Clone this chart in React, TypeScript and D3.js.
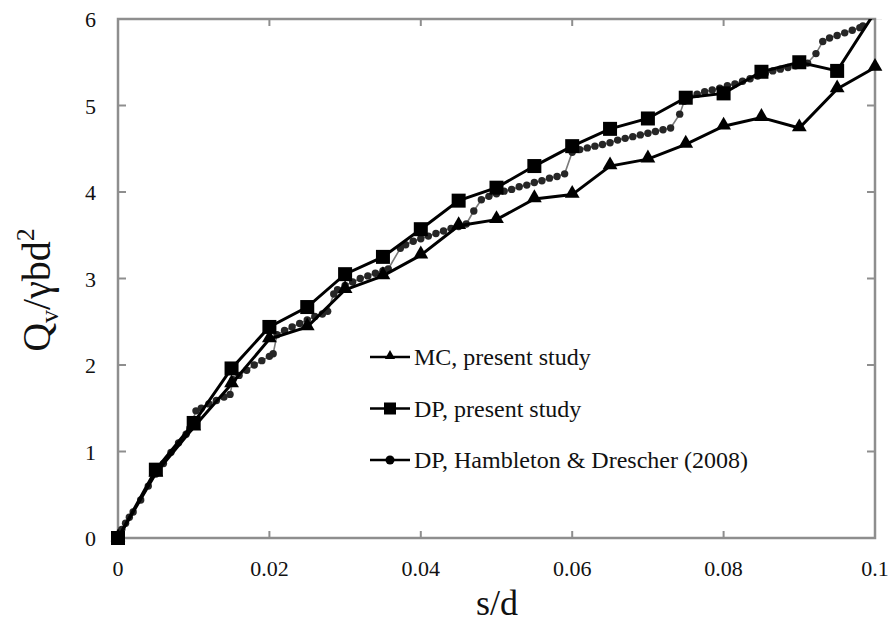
import React from "react";
import * as d3 from "d3";

const sd = [0, 0.005, 0.01, 0.015, 0.02, 0.025, 0.03, 0.035, 0.04, 0.045, 0.05, 0.055, 0.06, 0.065, 0.07, 0.075, 0.08, 0.085, 0.09, 0.095, 0.1];
const mcValues = [0, 0.75, 1.28, 1.78, 2.3, 2.44, 2.87, 3.03, 3.27, 3.61, 3.68, 3.92, 3.97, 4.3, 4.38, 4.55, 4.76, 4.86, 4.74, 5.19, 5.44];
const dpValues = [0, 0.79, 1.33, 1.96, 2.44, 2.67, 3.05, 3.25, 3.57, 3.9, 4.05, 4.3, 4.53, 4.73, 4.85, 5.09, 5.14, 5.39, 5.5, 5.4, 6.08];

const hdX = [
  0, 0.0005, 0.001, 0.0015, 0.002, 0.003, 0.004, 0.005, 0.006, 0.007, 0.008, 0.009, 0.0095,
  0.0103, 0.011, 0.012, 0.013, 0.014, 0.0148,
  0.0152, 0.016, 0.017, 0.018, 0.019, 0.02, 0.0205,
  0.021, 0.022, 0.023, 0.024, 0.025, 0.026, 0.027, 0.0277,
  0.0285, 0.029, 0.03, 0.031, 0.032, 0.033, 0.034, 0.035, 0.0357,
  0.0373, 0.038, 0.039, 0.04, 0.041, 0.042, 0.043, 0.044, 0.045, 0.046,
  0.047, 0.048, 0.049, 0.05, 0.051, 0.052, 0.053, 0.054, 0.055, 0.056, 0.057, 0.058, 0.059,
  0.06, 0.061, 0.062, 0.063, 0.064, 0.065, 0.066, 0.067, 0.068, 0.069, 0.07, 0.071, 0.072, 0.073,
  0.0742, 0.0748, 0.0755, 0.0765, 0.0775, 0.0785, 0.0795, 0.0805, 0.0815, 0.0825, 0.0835, 0.0845, 0.0855, 0.0865, 0.0875, 0.0885, 0.0895, 0.0905, 0.0911,
  0.0922, 0.0931, 0.094, 0.095, 0.096, 0.097, 0.098, 0.0984,
];
const hdValues = [
  0, 0.1, 0.17, 0.24, 0.3, 0.44, 0.6, 0.74, 0.86, 0.99, 1.1, 1.2, 1.27,
  1.47, 1.5, 1.55, 1.59, 1.63, 1.66,
  1.83, 1.88, 1.94, 2.0, 2.05, 2.1, 2.13,
  2.35, 2.4, 2.44, 2.48, 2.52, 2.56, 2.59, 2.62,
  2.82, 2.87, 2.92, 2.96, 3.0, 3.03, 3.06, 3.09, 3.11,
  3.35, 3.39, 3.43, 3.46, 3.49, 3.52, 3.55, 3.58, 3.6, 3.63,
  3.78, 3.91, 3.95, 3.98, 4.01, 4.03, 4.06, 4.08, 4.11, 4.13, 4.16, 4.18, 4.21,
  4.46, 4.49, 4.51, 4.53, 4.55, 4.57, 4.6, 4.62, 4.64, 4.66, 4.68, 4.7, 4.72, 4.74,
  4.9, 5.05, 5.1, 5.13, 5.16, 5.18, 5.2, 5.23, 5.25, 5.28, 5.31, 5.34, 5.37, 5.4, 5.42, 5.44, 5.46, 5.48, 5.49,
  5.6, 5.74, 5.78, 5.81, 5.84, 5.87, 5.9, 5.92,
];

const xTicks = [0, 0.02, 0.04, 0.06, 0.08, 0.1];
const xTickLabels = ["0", "0.02", "0.04", "0.06", "0.08", "0.1"];
const yTicks = [0, 1, 2, 3, 4, 5, 6];

const legendLabels = ["MC, present study", "DP, present study", "DP, Hambleton & Drescher (2008)"];

const W = 888;
const H = 627;
const M = { left: 118, right: 875, top: 19, bottom: 538 };
const FONT = "'Liberation Serif', 'Times New Roman', serif";
const AXIS = "#8e8e8e";

export default function App() {
  const x = d3.scaleLinear().domain([0, 0.1]).range([M.left, M.right]);
  const y = d3.scaleLinear().domain([0, 6]).range([M.bottom, M.top]);

  const mc = sd.map((s, i) => [s, mcValues[i]] as [number, number]);
  const dp = sd.map((s, i) => [s, dpValues[i]] as [number, number]);
  const hd = hdX.map((s, i) => [s, hdValues[i]] as [number, number]);

  const line = d3.line<[number, number]>().x((d) => x(d[0])).y((d) => y(d[1]));
  const tri = d3.symbol().type(d3.symbolTriangle).size(95)()!;
  const triLeg = d3.symbol().type(d3.symbolTriangle).size(45)()!;

  return (
    <svg width={W} height={H} style={{ position: "absolute", left: 0, top: 0, background: "#fff" }}>
      <defs>
        <clipPath id="plotclip">
          <rect x={90} y={M.top} width={M.right - 90 + 8} height={H - M.top - 60} />
        </clipPath>
        <filter id="blur" x="-20%" y="-20%" width="140%" height="140%">
          <feGaussianBlur stdDeviation="0.6" />
        </filter>
      </defs>

      {/* frame */}
      <rect x={M.left} y={M.top} width={M.right - M.left} height={M.bottom - M.top} fill="none" stroke={AXIS} strokeWidth={2.5} />

      {/* ticks */}
      {xTicks.map((t, i) => (
        <g key={"xt" + i}>
          <line x1={x(t)} x2={x(t)} y1={M.bottom} y2={M.bottom - 7} stroke={AXIS} strokeWidth={2} />
          <line x1={x(t)} x2={x(t)} y1={M.top} y2={M.top + 7} stroke={AXIS} strokeWidth={2} />
          <text x={x(t)} y={576} fontFamily={FONT} fontSize={22} textAnchor="middle" fill="#111">
            {xTickLabels[i]}
          </text>
        </g>
      ))}
      {yTicks.map((t, i) => (
        <g key={"yt" + i}>
          <line x1={M.left} x2={M.left + 8} y1={y(t)} y2={y(t)} stroke={AXIS} strokeWidth={2} />
          <line x1={M.right} x2={M.right - 8} y1={y(t)} y2={y(t)} stroke={AXIS} strokeWidth={2} />
          <text x={96} y={y(t) + 8} fontFamily={FONT} fontSize={22} textAnchor="end" fill="#111">
            {t}
          </text>
        </g>
      ))}

      <g clipPath="url(#plotclip)">
        {/* Hambleton & Drescher */}
        <path d={line(hd)!} fill="none" stroke="#7a7a7a" strokeWidth={1.6} />
        <g filter="url(#blur)">
          {hd.map((d, i) => (
            <circle key={"hd" + i} cx={x(d[0])} cy={y(d[1])} r={3.7} fill="#262626" />
          ))}
        </g>

        {/* MC */}
        <path d={line(mc)!} fill="none" stroke="#000" strokeWidth={3} />
        {mc.map((d, i) => (
          <path key={"mc" + i} d={tri} transform={`translate(${x(d[0])},${y(d[1]) - 1})`} fill="#000" />
        ))}

        {/* DP */}
        <path d={line(dp)!} fill="none" stroke="#000" strokeWidth={3} />
        {dp.map((d, i) => (
          <rect key={"dp" + i} x={x(d[0]) - 7} y={y(d[1]) - 7} width={14} height={14} fill="#000" />
        ))}
      </g>

      {/* legend */}
      {legendLabels.map((lab, i) => {
        const ly = 357 + i * 51.5;
        return (
          <g key={"lg" + i}>
            <line x1={370} x2={410} y1={ly} y2={ly} stroke="#000" strokeWidth={2.5} />
            {i === 0 && <path d={triLeg} transform={`translate(390,${ly - 1})`} fill="#000" />}
            {i === 1 && <rect x={384} y={ly - 6} width={12} height={12} fill="#000" />}
            {i === 2 && <circle cx={390} cy={ly} r={4.5} fill="#000" />}
            <text x={414} y={ly + 8} fontFamily={FONT} fontSize={24} fill="#111">
              {lab}
            </text>
          </g>
        );
      })}

      {/* axis titles */}
      <text x={497} y={615} fontFamily={FONT} fontSize={36} textAnchor="middle" fill="#111">
        s/d
      </text>
      <text transform="translate(50,290) rotate(-90)" fontFamily={FONT} fontSize={40} textAnchor="middle" fill="#111">
        Q<tspan fontSize={26} dy={8}>v</tspan>
        <tspan dy={-8}>/γbd</tspan>
        <tspan fontSize={26} dy={-16}>2</tspan>
      </text>
    </svg>
  );
}
